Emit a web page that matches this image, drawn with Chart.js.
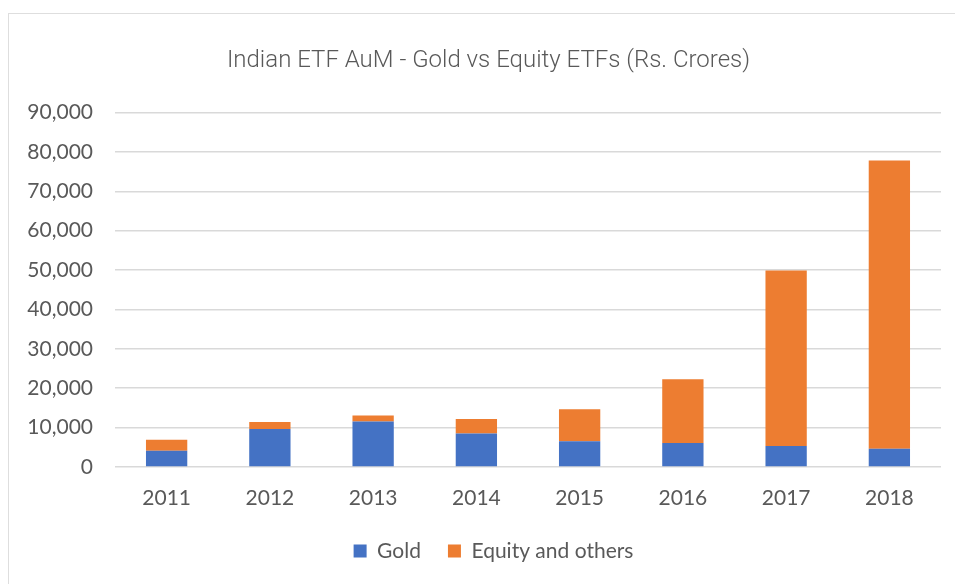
<!DOCTYPE html>
<html>
<head>
<meta charset="utf-8">
<script src="https://cdn.jsdelivr.net/npm/chart.js@4.4.1/dist/chart.umd.min.js"></script>
<style>
  html, body { margin:0; padding:0; background:#fff; }
  #wrap { position:relative; width:955px; height:584px; overflow:hidden; }
  #frame { position:absolute; left:8px; top:13px; width:1000px; height:700px; border:1px solid #dedede; box-sizing:border-box; }
  canvas { position:absolute; left:0; top:0; }
</style>
</head>
<body>
<div id="wrap">
  <div id="frame"></div>
  <canvas id="c" width="955" height="584"></canvas>
</div>
<script>
const categories = ['2011','2012','2013','2014','2015','2016','2017','2018'];
const goldValues = [4150, 9670, 11530, 8480, 6530, 6100, 5340, 4660];
const equityValues = [2750, 1780, 1520, 3730, 8150, 16200, 44530, 73200];
const seriesNames = ['Gold', 'Equity and others'];
const yTickMax = 90000;
const yTickStep = 10000;

const textColor = '#595959';

const shiftPlugin = {
  id: 'shiftBoxes',
  afterLayout(chart) {
    const t = chart.titleBlock;
    if (t) { t.left += 18; t.right += 18; }
    const l = chart.legend;
    if (l) { l.left += 23; l.right += 23; }
  }
};

new Chart(document.getElementById('c'), {
  type: 'bar',
  data: {
    labels: categories,
    datasets: [
      { label: seriesNames[0], data: goldValues, backgroundColor: '#4472C4', barPercentage: 0.4, categoryPercentage: 1 },
      { label: seriesNames[1], data: equityValues, backgroundColor: '#ED7D31', barPercentage: 0.4, categoryPercentage: 1 }
    ]
  },
  plugins: [shiftPlugin],
  options: {
    responsive: false,
    animation: false,
    layout: { padding: { left: 0, right: 14, top: 0, bottom: 12.5 } },
    plugins: {
      title: {
        display: true,
        text: 'Indian ETF AuM - Gold vs Equity ETFs (Rs. Crores)',
        color: textColor,
        font: { family: 'Roboto', size: 24, weight: '300' },
        padding: { top: 46.6, bottom: 37.2 }
      },
      legend: {
        display: true,
        position: 'bottom',
        labels: {
          color: textColor,
          font: { family: 'Lato', size: 21 },
          boxWidth: 13,
          boxHeight: 13,
          padding: 27
        }
      },
      tooltip: { enabled: false }
    },
    scales: {
      x: {
        stacked: true,
        grid: { display: false, drawTicks: false },
        border: { display: false },
        ticks: { color: textColor, font: { family: 'Lato', size: 21 }, padding: 18.4 },
        afterFit: (s) => { s.height = 46.5; }
      },
      y: {
        stacked: true,
        min: 0,
        max: yTickMax,
        grid: { color: '#d9d9d9', lineWidth: 1.5, drawTicks: false },
        border: { display: false },
        ticks: {
          stepSize: yTickStep,
          color: textColor,
          font: { family: 'Lato', size: 21 },
          padding: 22,
          callback: (v) => v.toLocaleString('en-US')
        },
        afterFit: (s) => { s.width = 115; }
      }
    }
  }
});
</script>
</body>
</html>
